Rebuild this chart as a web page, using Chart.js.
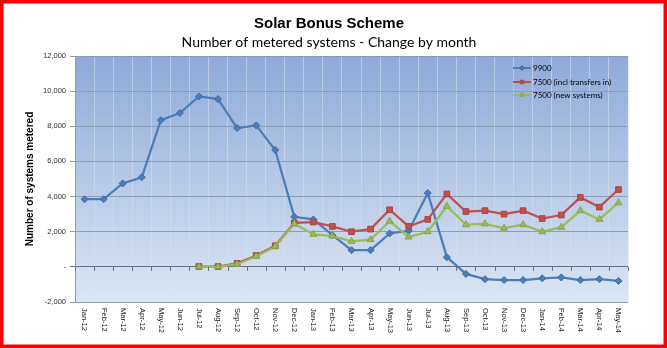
<!DOCTYPE html>
<html lang="en">
<head>
<meta charset="UTF-8">
<title>Solar Bonus Scheme</title>
<script src="https://cdn.jsdelivr.net/npm/chart.js"></script>
<style>
  html, body { margin: 0; padding: 0; background: #fff; }
  #wrap { width: 667px; height: 348px; }
</style>
</head>
<body>
<div id="wrap"><canvas id="solarChart" width="667" height="348"></canvas></div>
<script>
// months on the x axis
const months = ['Jan-12','Feb-12','Mar-12','Apr-12','May-12','Jun-12','Jul-12','Aug-12','Sep-12','Oct-12',
  'Nov-12','Dec-12','Jan-13','Feb-13','Mar-13','Apr-13','May-13','Jun-13','Jul-13','Aug-13','Sep-13',
  'Oct-13','Nov-13','Dec-13','Jan-14','Feb-14','Mar-14','Apr-14','May-14'];

// change in metered systems per month
const tariff9900 = [3850, 3850, 4750, 5100, 8350, 8750, 9700, 9550, 7900, 8050,
  6650, 2850, 2700, 1800, 950, 950, 1900, 2050, 4200, 550, -400,
  -700, -750, -750, -650, -600, -750, -700, -800];
const tariff7500incl = [null, null, null, null, null, null, 20, 20, 200, 650,
  1200, 2500, 2550, 2300, 2000, 2150, 3250, 2300, 2700, 4150, 3150,
  3200, 3000, 3200, 2750, 2950, 3950, 3400, 4400];
const tariff7500new = [null, null, null, null, null, null, 0, 0, 150, 600,
  1150, 2450, 1850, 1750, 1450, 1550, 2600, 1700, 2000, 3450, 2400,
  2450, 2200, 2400, 2000, 2250, 3200, 2700, 3650];

const seriesNames = ['9900', '7500 (incl transfers in)', '7500 (new systems)'];
const yMin = -2000, yMax = 12000, yStep = 2000;
const chartTitle = 'Solar Bonus Scheme';
const chartSubtitle = 'Number of metered systems - Change by month';

const tickFont = '7.5px "Liberation Sans", Arial, sans-serif';

// plot background + white canvas
const backdrop = {
  id: 'backdrop',
  beforeDraw(chart) {
    const { ctx, chartArea: a } = chart;
    ctx.save();
    ctx.fillStyle = '#fff';
    ctx.fillRect(0, 0, chart.width, chart.height);
    const g = ctx.createLinearGradient(0, a.top, 0, a.bottom);
    g.addColorStop(0, '#8eaad9');
    g.addColorStop(1, '#dce6f3');
    ctx.fillStyle = g;
    ctx.fillRect(a.left, a.top, a.right - a.left, a.bottom - a.top);
    ctx.restore();
  }
};

// titles, rotated month labels, legend, red frame
const extras = {
  id: 'extras',
  afterDraw(chart) {
    const { ctx, chartArea: a } = chart;
    const xs = chart.scales.x, ys = chart.scales.y;
    ctx.save();

    // titles (centred a bit left of the canvas middle, as in the original)
    ctx.fillStyle = '#000';
    ctx.textAlign = 'center';
    ctx.textBaseline = 'middle';
    ctx.font = 'bold 15px "Liberation Sans", Arial, sans-serif';
    ctx.fillText(chartTitle, 329, 24);
    ctx.font = '14px Lato, sans-serif';
    ctx.fillText(chartSubtitle, 329, 42);

    // little ticks on the zero line
    const y0 = ys.getPixelForValue(0);
    ctx.strokeStyle = '#5f6f86';
    ctx.lineWidth = 1;
    ctx.beginPath();
    for (let i = 0; i <= months.length; i++) {
      const x = Math.round(a.left + (a.right - a.left) * i / months.length) + 0.5;
      ctx.moveTo(x, y0);
      ctx.lineTo(x, y0 + 4);
    }
    ctx.stroke();

    // month labels, reading top to bottom
    ctx.fillStyle = '#202020';
    ctx.font = tickFont;
    ctx.textAlign = 'left';
    ctx.textBaseline = 'middle';
    months.forEach((m, i) => {
      ctx.save();
      ctx.translate(xs.getPixelForValue(i), a.bottom + 6);
      ctx.rotate(Math.PI / 2);
      ctx.fillText(m, 0, 0);
      ctx.restore();
    });

    // legend
    const lx = 513, rows = [68, 82, 95];
    ctx.font = '8px Lato, "Liberation Sans", sans-serif';
    chart.data.datasets.forEach((ds, i) => {
      const y = rows[i];
      ctx.strokeStyle = ds.borderColor;
      ctx.lineWidth = 2;
      ctx.beginPath();
      ctx.moveTo(lx, y);
      ctx.lineTo(lx + 18, y);
      ctx.stroke();
      ctx.fillStyle = ds.pointBackgroundColor;
      ctx.strokeStyle = ds.pointBorderColor;
      ctx.lineWidth = 1;
      Chart.helpers.drawPoint(ctx, { pointStyle: ds.pointStyle, radius: 2.5, rotation: 0, borderWidth: 1 }, lx + 9, y);
      ctx.fillStyle = '#000';
      ctx.textAlign = 'left';
      ctx.fillText(ds.label, lx + 20, y);
    });

    // red frame
    ctx.strokeStyle = '#ff0000';
    ctx.lineWidth = 3.5;
    ctx.strokeRect(1.75, 1.75, chart.width - 3.5, chart.height - 3.5);
    ctx.restore();
  }
};

new Chart(document.getElementById('solarChart'), {
  type: 'line',
  data: {
    labels: months,
    datasets: [
      {
        label: seriesNames[0], data: tariff9900, order: 2,
        borderColor: '#4a7ebb', borderWidth: 2.25,
        pointStyle: 'rectRot', pointRadius: 3.5,
        pointBackgroundColor: '#4a7ebb', pointBorderColor: '#3c6aa5', pointBorderWidth: 1
      },
      {
        label: seriesNames[1], data: tariff7500incl, order: 1,
        borderColor: '#c0504d', borderWidth: 2.25,
        pointStyle: 'rect', pointRadius: 4,
        pointBackgroundColor: '#c0504d', pointBorderColor: '#a84542', pointBorderWidth: 1
      },
      {
        label: seriesNames[2], data: tariff7500new, order: 0,
        borderColor: '#9bbb59', borderWidth: 2.25,
        pointStyle: 'triangle', pointRadius: 4,
        pointBackgroundColor: '#9bbb59', pointBorderColor: '#86a34a', pointBorderWidth: 1
      }
    ]
  },
  options: {
    responsive: false,
    animation: false,
    layout: { padding: { left: 0, right: 39, top: 56, bottom: 0 } },
    elements: { line: { tension: 0 } },
    plugins: {
      legend: { display: false },
      tooltip: { enabled: false },
      title: { display: false }
    },
    scales: {
      x: {
        offset: true,
        ticks: { display: false },
        grid: { offset: true, color: 'rgba(215,225,240,0.55)', drawTicks: false },
        border: { display: false },
        afterFit(s) { s.height = 46; }
      },
      y: {
        min: yMin, max: yMax,
        ticks: {
          stepSize: yStep,
          color: '#303030',
          font: { family: '"Liberation Sans", Arial, sans-serif', size: 7.5 },
          padding: 4,
          callback: v => v === 0 ? '-' : v.toLocaleString('en-US')
        },
        grid: {
          color: c => c.tick && c.tick.value === 0 ? '#5f6f86' : '#8b9cb5',
          tickLength: 5
        },
        border: { color: '#8b9cb5' },
        title: {
          display: true,
          text: 'Number of systems metered',
          color: '#000',
          font: { family: '"Liberation Sans", Arial, sans-serif', size: 10, weight: 'bold' },
          padding: { top: 24, bottom: 0 }
        },
        afterFit(s) { s.width = 75; }
      }
    }
  },
  plugins: [backdrop, extras]
});
</script>
</body>
</html>
